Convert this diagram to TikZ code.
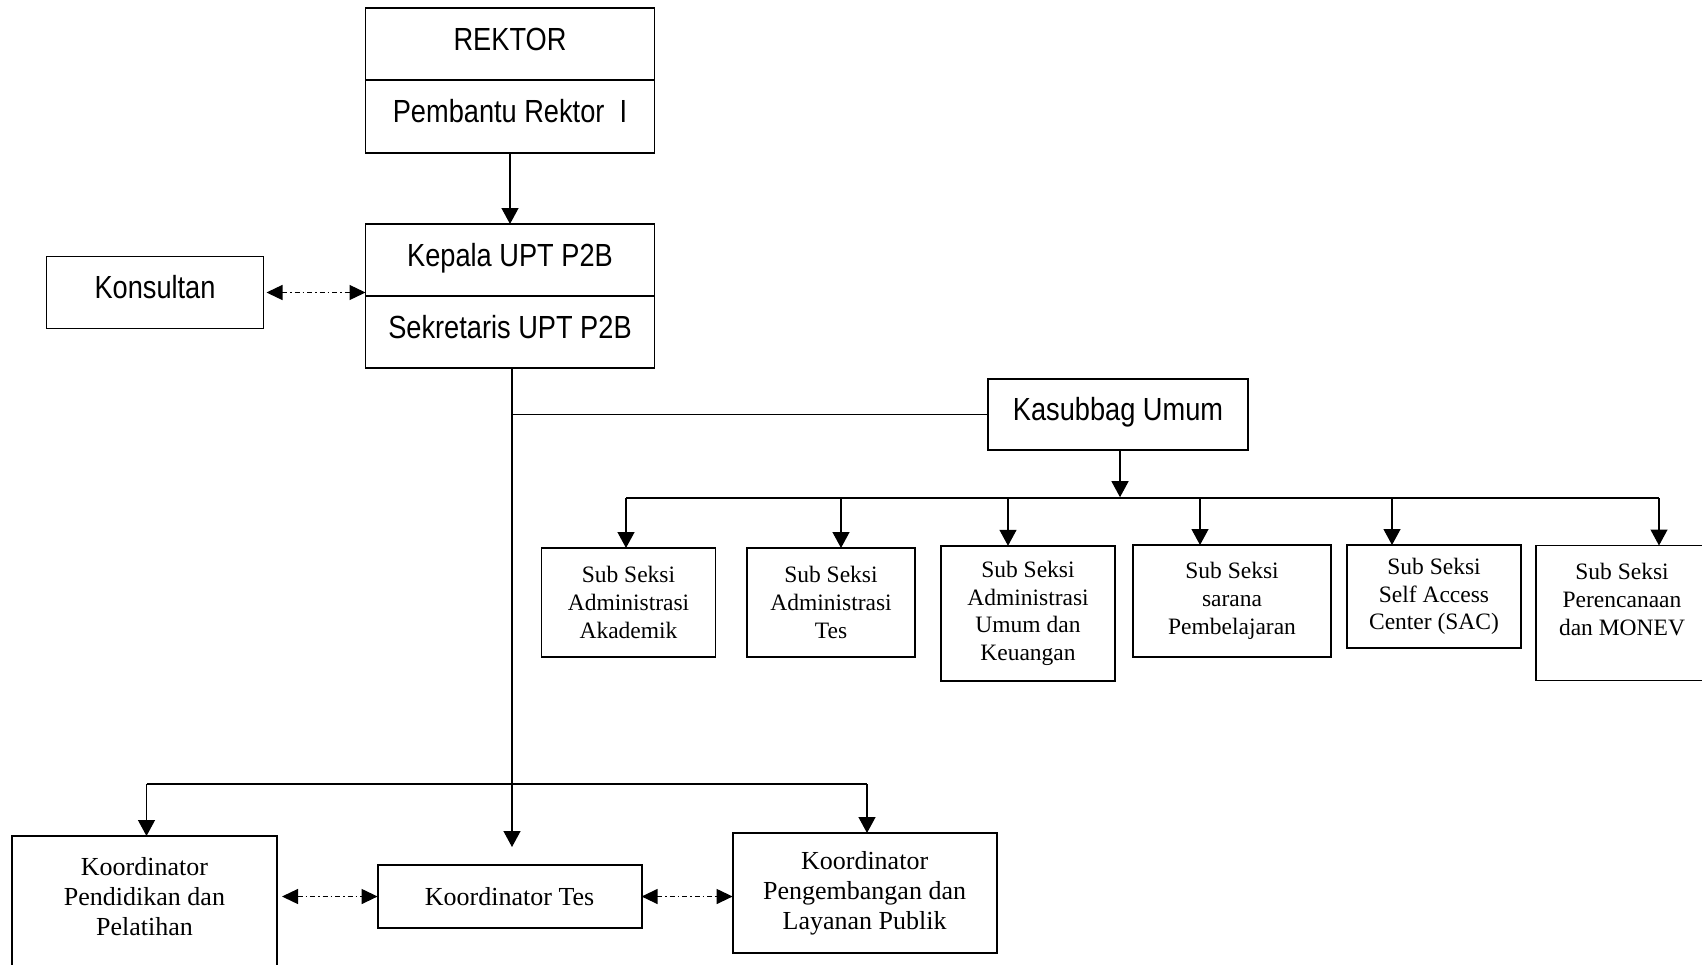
\documentclass[tikz,border=0pt]{standalone}
\usepackage{fontspec}
\setmainfont{Liberation Serif}
\newfontfamily\arialn{Liberation Sans}[FakeStretch=0.85]
\usetikzlibrary{arrows.meta,positioning,calc}
\tikzset{
  box/.style={draw, line width=1.9pt, inner sep=0pt, outer sep=0pt, align=center},
  head/.style={box, minimum width=289pt, minimum height=72pt,
    font=\arialn\fontsize{32}{38}\selectfont, text height=24pt, text depth=12pt},
  subbox/.style={box, font=\fontsize{23.5}{27.7}\selectfont},
  koord/.style={box, minimum width=264pt, font=\fontsize{26}{30}\selectfont},
  conn/.style={line width=1.3pt},
  arr/.style={conn, -{Triangle[length=16pt,width=17pt]}},
  twoway/.style={conn, {Triangle[length=16pt,width=15pt]}-{Triangle[length=16pt,width=15pt]},
    dash pattern=on 5pt off 3pt on 1.5pt off 3pt},
}
\begin{document}
\begin{tikzpicture}[x=1pt,y=-1pt]
  \useasboundingbox (0,0) rectangle (1702,964);
  % top
  \node[head] (rektor) at (510,44) {REKTOR};
  \node[head, minimum height=73pt, below=0pt of rektor] (pr1) {Pembantu Rektor\ \ I};
  \node[head] (kepala) at (510,260) {Kepala UPT P2B};
  \node[head, below=0pt of kepala] (sekr) {Sekretaris UPT P2B};
  \node[head, minimum width=217pt] (kons) at (155,292.5) {Konsultan};
  \node[head, minimum width=260pt, minimum height=71pt] (kasub) at (1118,414.7) {Kasubbag Umum};

  % sub seksi
  \node[subbox, minimum width=174pt, minimum height=109pt] (s1) at (628.5,602.5) {Sub Seksi\\Administrasi\\Akademik};
  \node[subbox, minimum width=168pt, minimum height=109pt] (s2) at (831,602.5) {Sub Seksi\\Administrasi\\Tes};
  \node[subbox, minimum width=174pt, minimum height=135pt] (s3) at (1028,613.3) {Sub Seksi\\Administrasi\\Umum dan\\Keuangan};
  \node[subbox, minimum width=197.5pt, minimum height=112pt] (s4) at (1232,601) {Sub Seksi\\sarana\\Pembelajaran};
  \node[subbox, minimum width=174pt, minimum height=103pt] (s5) at (1434,596.5) {Sub Seksi\\Self Access\\Center (SAC)};
  \node[subbox, minimum width=172pt, minimum height=135pt] (s6) at (1622,613) {Sub Seksi\\Perencanaan\\dan MONEV\\\mbox{}};

  % koordinator
  \node[koord, minimum height=63pt] (tes) at (509.6,896.5) {Koordinator Tes};
  \node[koord, minimum height=120pt] (peng) at (864.6,893) {Koordinator\\Pengembangan dan\\Layanan Publik};
  \node[koord, minimum width=265pt, minimum height=150pt, anchor=north] (pend) at (144.5,836) {Koordinator\\Pendidikan dan\\Pelatihan\\\mbox{}};

  \coordinate (trunk) at ([xshift=2pt]sekr.south);
  \coordinate (tesin) at ($(trunk |- tes.north)+(0,-18)$);
  \coordinate (bus) at ($(kasub.south)+(2,47)$);

  \draw[arr] (pr1) -- (kepala);
  \draw[twoway, shorten <=3pt] (kons.east) -- (kons.east -| kepala.west);
  \draw[arr] (trunk) -- (tesin);
  \draw[conn] (trunk |- kasub.west) -- (kasub.west);
  \draw[arr] ([xshift=2pt]kasub.south) -- (bus);
  \draw[conn] (626,498) -- (1659,498);
  \foreach \n/\x in {s1/626, s2/841, s3/1008, s4/1200, s5/1392, s6/1659}
    \draw[arr] (\x,498) -- (\x,0 |- \n.north);

  \draw[conn] (146.5,784) -- (867,784);
  \draw[arr] (146.5,784) -- (146.5,0 |- pend.north);
  \draw[arr] (867,784) -- (867,0 |- peng.north);
  \draw[twoway, shorten <=5pt] (pend.east |- tes.west) -- (tes.west);
  \draw[twoway] (tes.east) -- (peng.west |- tes.east);
\end{tikzpicture}
\end{document}
